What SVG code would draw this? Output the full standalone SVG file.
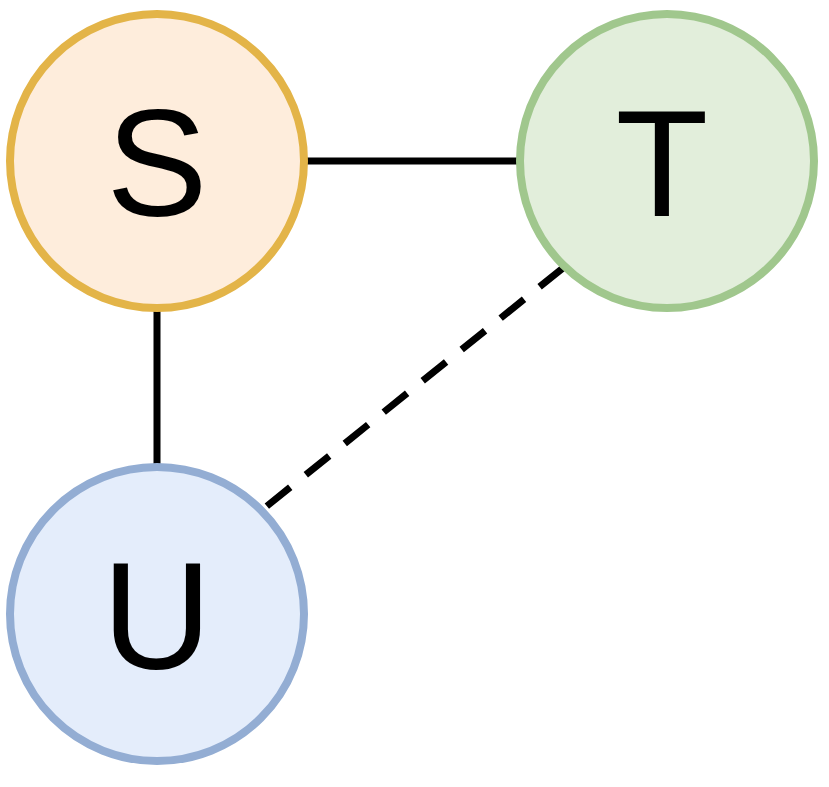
<svg xmlns="http://www.w3.org/2000/svg" width="829" height="787" viewBox="0 0 829 787">
<style>
.n{stroke-width:8}
.t{font-family:"Liberation Sans",Arial,sans-serif;font-size:152px;text-anchor:middle;fill:#000}
.e{stroke:#000;stroke-width:7;fill:none}
</style>
<rect width="829" height="787" fill="#fff"/>
<g id="connectors">
<line class="e" x1="306" y1="161" x2="519" y2="161"/>
<line class="e" x1="157" y1="311" x2="157" y2="466"/>
<line class="e" stroke="#1a1a1a" stroke-dasharray="30,20" x1="563" y1="268" x2="262" y2="510"/>
</g>
<g id="S"><circle class="n" cx="157" cy="161" r="147" fill="#feeddc" stroke="#e3b448"/><text class="t" x="157" y="216">S</text></g>
<g id="T"><circle class="n" cx="667" cy="161" r="147" fill="#e2eedb" stroke="#a0c78d"/><text class="t" x="662" y="216">T</text></g>
<g id="U"><circle class="n" cx="157" cy="614" r="147" fill="#e4edfb" stroke="#93add3"/><text class="t" x="157" y="669">U</text></g>
</svg>
